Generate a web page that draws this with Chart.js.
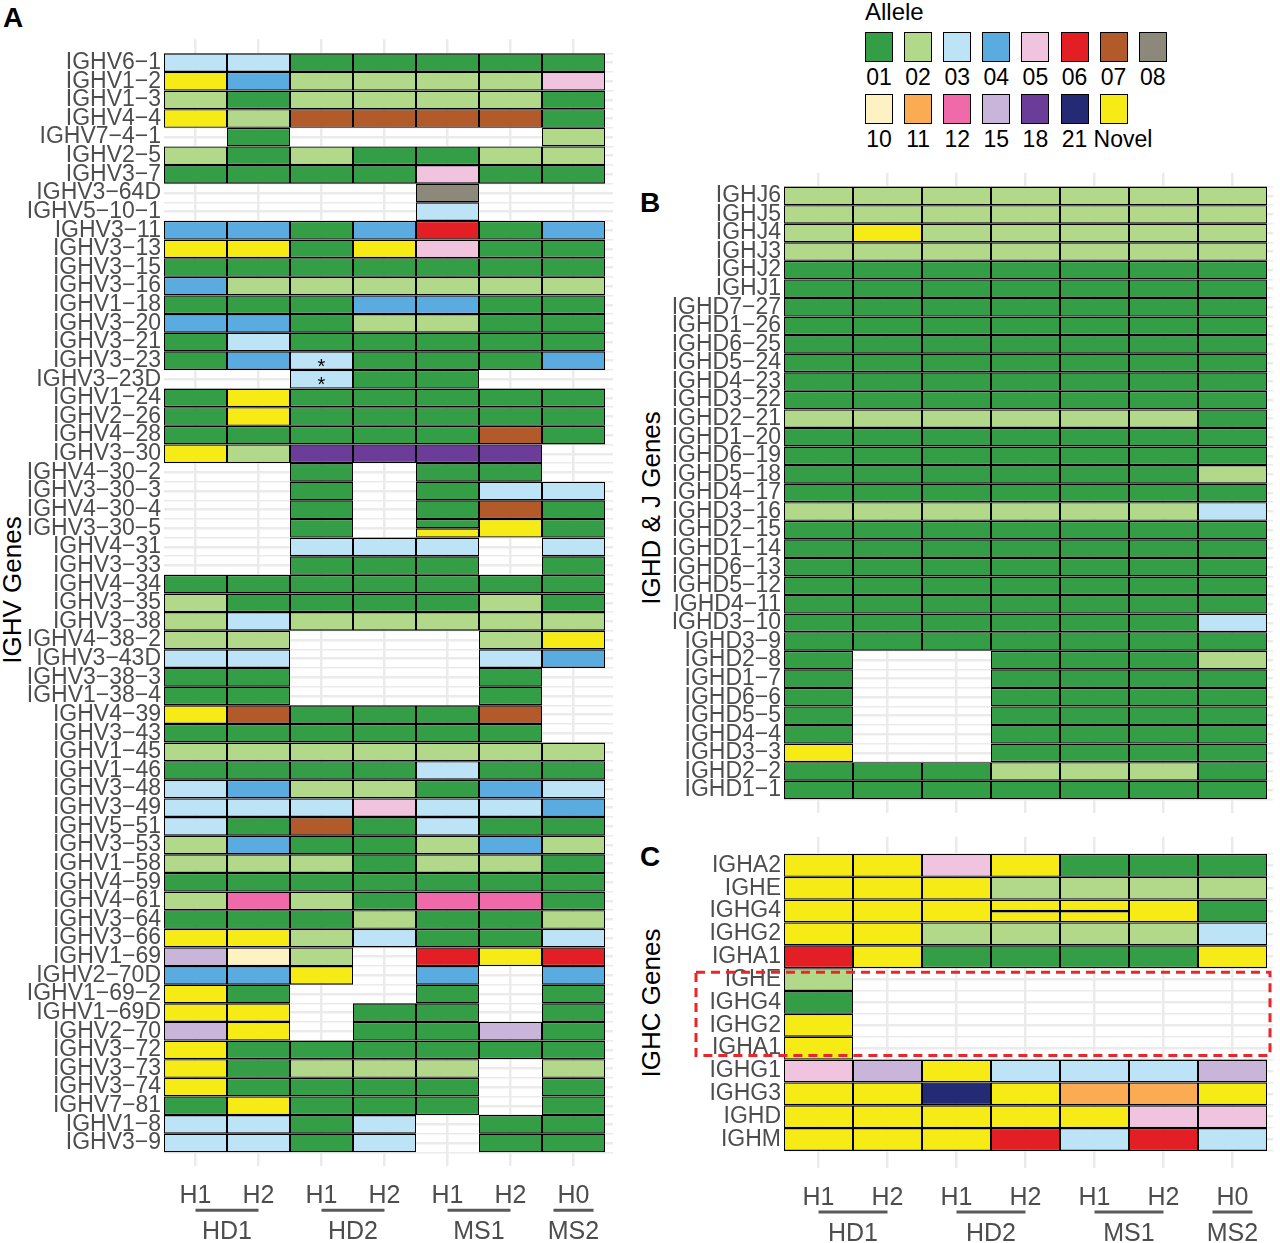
<!DOCTYPE html>
<html>
<head>
<meta charset="utf-8">
<script src="https://cdn.jsdelivr.net/npm/chart.js@4"></script>
<style>
  body { margin: 0; background: #fff; font-family: "Liberation Sans", Arial, sans-serif; }
  #page { position: relative; width: 1280px; height: 1243px; overflow: hidden; background: #fff; }
  .panel { position: absolute; }
  .letter { position: absolute; font-weight: bold; font-size: 28px; line-height: 28px; color: #000; }
  .ytitle { position: absolute; font-size: 26px; line-height: 26px; white-space: nowrap; color: #000;
            transform: translate(-50%, -50%) rotate(-90deg); }
  .lbox { position: absolute; width: 28px; height: 30px; box-sizing: border-box; border: 1px solid #000; }
  .llab { position: absolute; width: 40px; text-align: center; font-size: 23px; line-height: 23px; color: #000; white-space: nowrap; }
</style>
</head>
<body>
<div id="page">
  <div class="letter" style="left:3px; top:4px;">A</div>
  <div class="letter" style="left:640px; top:189px;">B</div>
  <div class="letter" style="left:640px; top:843px;">C</div>

  <div class="ytitle" style="left:12px; top:590px;">IGHV Genes</div>
  <div class="ytitle" style="left:651px; top:508px;">IGHD &amp; J Genes</div>
  <div class="ytitle" style="left:651px; top:1003px;">IGHC Genes</div>

  <div id="legend" class="panel" style="left:0; top:0; width:1280px; height:160px;">
    <div style="position:absolute; left:865px; top:0px; font-size:24px; line-height:24px;">Allele</div>
  </div>

  <div class="panel" style="left:0; top:0;"><canvas id="chartA" width="625" height="1243"></canvas></div>
  <div class="panel" style="left:630px; top:150px;"><canvas id="chartB" width="650" height="680"></canvas></div>
  <div class="panel" style="left:630px; top:820px;"><canvas id="chartC" width="650" height="423"></canvas></div>
</div>

<script>
// allele palette
const alleleCodes  = ['01', '02', '03', '04', '05', '06', '07', '08', '10', '11', '12', '15', '18', '21', 'N'];
const alleleNames  = ['01', '02', '03', '04', '05', '06', '07', '08', '10', '11', '12', '15', '18', '21', 'Novel'];
const alleleColors = ['#339e45', '#b2d88a', '#bde3f6', '#5aace0', '#f0c4df', '#e31e25', '#b35a2a', '#8c887a',
                      '#fff2c2', '#fbab51', '#f06aa9', '#c9b5d9', '#6b3d99', '#252a74', '#f6eb14'];

// columns (haplotypes) and their subjects
const haplotypes = ['H1', 'H2', 'H1', 'H2', 'H1', 'H2', 'H0'];
const subjects   = ['HD1', 'HD1', 'HD2', 'HD2', 'MS1', 'MS1', 'MS2'];

// ---- panel A : IGHV ----
const ighvGenes = ['IGHV6-1','IGHV1-2','IGHV1-3','IGHV4-4','IGHV7-4-1','IGHV2-5','IGHV3-7','IGHV3-64D','IGHV5-10-1','IGHV3-11',
  'IGHV3-13','IGHV3-15','IGHV3-16','IGHV1-18','IGHV3-20','IGHV3-21','IGHV3-23','IGHV3-23D','IGHV1-24','IGHV2-26',
  'IGHV4-28','IGHV3-30','IGHV4-30-2','IGHV3-30-3','IGHV4-30-4','IGHV3-30-5','IGHV4-31','IGHV3-33','IGHV4-34','IGHV3-35',
  'IGHV3-38','IGHV4-38-2','IGHV3-43D','IGHV3-38-3','IGHV1-38-4','IGHV4-39','IGHV3-43','IGHV1-45','IGHV1-46','IGHV3-48',
  'IGHV3-49','IGHV5-51','IGHV3-53','IGHV1-58','IGHV4-59','IGHV4-61','IGHV3-64','IGHV3-66','IGHV1-69','IGHV2-70D',
  'IGHV1-69-2','IGHV1-69D','IGHV2-70','IGHV3-72','IGHV3-73','IGHV3-74','IGHV7-81','IGHV1-8','IGHV3-9'];

// '' = not present, 'N' = novel, 'a|b' = two alleles in one haplotype
const ighvHD1H1 = ['03','N','02','N','','02','01','','','04',
  'N','01','04','01','04','01','01','','01','01',
  '01','N','','','','','','','01','02',
  '02','02','03','01','01','N','01','02','01','03',
  '03','03','02','02','01','02','01','N','15','04',
  'N','N','15','N','N','N','01','03','03'];
const ighvHD1H2 = ['03','04','01','02','01','01','01','','','04',
  'N','01','02','01','04','03','04','','N','N',
  '01','02','','','','','','','01','01',
  '03','02','03','01','01','07','01','02','01','04',
  '03','01','04','02','01','12','01','N','10','04',
  '01','N','N','01','01','01','N','03','03'];
const ighvHD2H1 = ['01','02','02','07','','02','01','','','01',
  '01','01','02','01','01','01','03','03','01','01',
  '01','18','01','01','01','01','03','01','01','01',
  '02','','','','','01','01','02','01','02',
  '03','07','01','02','01','02','01','02','02','N',
  '','','','01','02','01','01','01','01'];
const ighvHD2H2 = ['01','02','02','07','','01','01','','','04',
  'N','01','02','04','02','01','01','01','01','01',
  '01','18','','','','','03','01','01','01',
  '02','','','','','01','01','02','01','02',
  '05','01','01','01','01','01','02','03','','',
  '','01','01','01','02','01','01','03','03'];
const ighvMS1H1 = ['01','02','02','07','','01','05','08','03','06',
  '05','01','02','04','02','01','01','01','01','01',
  '01','18','01','01','01','01|N','03','01','01','01',
  '02','','','','','01','01','02','03','01',
  '03','03','02','02','01','12','01','01','06','04',
  '01','01','01','01','02','01','01','',''];
const ighvMS1H2 = ['01','02','02','07','','02','01','','','01',
  '01','01','02','01','01','01','01','','01','01',
  '07','18','01','03','07','N','','','01','02',
  '02','02','03','01','01','07','01','02','01','04',
  '03','01','04','02','01','12','01','01','N','',
  '','','15','01','','','','01','01'];
const ighvMS2H0 = ['01','05','01','01','02','02','01','','','04',
  '01','01','02','01','01','01','04','','01','01',
  '01','','','03','01','01','03','01','01','01',
  '02','N','04','','','','','02','01','03',
  '04','01','02','01','01','01','02','03','06','04',
  '01','01','01','01','02','01','01','01','01'];
const ighvStarred = ['IGHV3-23', 'IGHV3-23D'];   // marked with * in HD2 H1

// ---- panel B : IGHD & IGHJ ----
const ighdjGenes = ['IGHJ6','IGHJ5','IGHJ4','IGHJ3','IGHJ2','IGHJ1','IGHD7-27','IGHD1-26','IGHD6-25','IGHD5-24',
  'IGHD4-23','IGHD3-22','IGHD2-21','IGHD1-20','IGHD6-19','IGHD5-18','IGHD4-17','IGHD3-16','IGHD2-15','IGHD1-14',
  'IGHD6-13','IGHD5-12','IGHD4-11','IGHD3-10','IGHD3-9','IGHD2-8','IGHD1-7','IGHD6-6','IGHD5-5','IGHD4-4',
  'IGHD3-3','IGHD2-2','IGHD1-1'];
const djHD1H1 = ['02','02','02','02','01','01','01','01','01','01',
  '01','01','02','01','01','01','01','02','01','01',
  '01','01','01','01','01','01','01','01','01','01',
  'N','01','01'];
const djHD1H2 = ['02','02','N','02','01','01','01','01','01','01',
  '01','01','02','01','01','01','01','02','01','01',
  '01','01','01','01','01','','','','','',
  '','01','01'];
const djHD2H1 = ['02','02','02','02','01','01','01','01','01','01',
  '01','01','02','01','01','01','01','02','01','01',
  '01','01','01','01','01','','','','','',
  '','01','01'];
const djHD2H2 = ['02','02','02','02','01','01','01','01','01','01',
  '01','01','02','01','01','01','01','02','01','01',
  '01','01','01','01','01','01','01','01','01','01',
  '01','02','01'];
const djMS1H1 = ['02','02','02','02','01','01','01','01','01','01',
  '01','01','02','01','01','01','01','02','01','01',
  '01','01','01','01','01','01','01','01','01','01',
  '01','02','01'];
const djMS1H2 = ['02','02','02','02','01','01','01','01','01','01',
  '01','01','02','01','01','01','01','02','01','01',
  '01','01','01','01','01','01','01','01','01','01',
  '01','02','01'];
const djMS2H0 = ['02','02','02','02','01','01','01','01','01','01',
  '01','01','01','01','01','02','01','03','01','01',
  '01','01','01','03','01','02','01','01','01','01',
  '01','01','01'];

// ---- panel C : IGHC ----
const ighcGenes = ['IGHA2','IGHE','IGHG4','IGHG2','IGHA1','IGHE','IGHG4','IGHG2','IGHA1','IGHG1','IGHG3','IGHD','IGHM'];
const cHD1H1 = ['N','N','N','N','06','02','01','N','N','05','N','N','N'];
const cHD1H2 = ['N','N','N','N','N','','','','','15','N','N','N'];
const cHD2H1 = ['05','N','N','02','01','','','','','N','21','N','N'];
const cHD2H2 = ['N','02','N|N','02','01','','','','','03','N','N','06'];
const cMS1H1 = ['01','02','N|N','02','01','','','','','03','11','N','03'];
const cMS1H2 = ['01','02','N','02','01','','','','','03','11','05','06'];
const cMS2H0 = ['01','02','01','03','N','','','','','15','N','05','03'];
const ighcBoxed = ['IGHE', 'IGHA1'];  // second copies of these rows bound the dashed box

const FONT = '"Liberation Sans", Arial, sans-serif';
const GRID = '#ebebeb';
const TXT = '#4d4d4d';

function colorOf(code) {
  const i = alleleCodes.indexOf(code);
  return i >= 0 ? alleleColors[i] : 'rgba(0,0,0,0)';
}

// build floating bars: one per allele, split cells share the row height
function buildCells(columns) {
  const cells = [];
  columns.forEach((col, c) => {
    col.forEach((code, r) => {
      if (!code) return;
      const parts = code.split('|');
      const h = 1 / parts.length;
      parts.forEach((p, k) => {
        cells.push({ x: c, y: [r - 0.5 + k * h, r - 0.5 + (k + 1) * h], allele: p });
      });
    });
  });
  return cells;
}

// asterisks on some cells
const starPlugin = {
  id: 'stars',
  afterDatasetsDraw(chart, args, opts) {
    if (!opts.rows) return;
    const { ctx, scales: { x, y } } = chart;
    ctx.save();
    ctx.font = '20px ' + FONT;
    ctx.fillStyle = '#000';
    ctx.textAlign = 'center';
    ctx.textBaseline = 'alphabetic';
    opts.rows.forEach(g => {
      const r = opts.genes.indexOf(g);
      ctx.fillText('*', x.getPixelForValue(opts.col), y.getPixelForValue(r) + 12);
    });
    ctx.restore();
  }
};

// second level x labels (subject) with an underline
const groupPlugin = {
  id: 'groups',
  afterDraw(chart, args, opts) {
    if (!opts.show) return;
    const { ctx, chartArea, scales: { x } } = chart;
    const lineY = chartArea.bottom + 44;
    const textY = chartArea.bottom + 73;
    const names = [...new Set(subjects)];
    ctx.save();
    ctx.font = '25px ' + FONT;
    ctx.fillStyle = TXT;
    ctx.strokeStyle = '#5a5a5a';
    ctx.lineWidth = 3;
    ctx.textAlign = 'center';
    ctx.textBaseline = 'alphabetic';
    names.forEach(name => {
      const cols = subjects.map((s, i) => s === name ? i : -1).filter(i => i >= 0);
      let a = x.getPixelForValue(cols[0]);
      let b = x.getPixelForValue(cols[cols.length - 1]);
      const mid = (a + b) / 2;
      if (cols.length === 1) { a = mid - 20; b = mid + 20; }
      ctx.beginPath();
      ctx.moveTo(a, lineY);
      ctx.lineTo(b, lineY);
      ctx.stroke();
      ctx.fillText(name, mid, textY);
    });
    ctx.restore();
  }
};

// red dashed box around a block of rows
const boxPlugin = {
  id: 'dashBox',
  afterDatasetsDraw(chart, args, opts) {
    if (!opts.from) return;
    const { ctx, chartArea, scales: { y } } = chart;
    const r0 = opts.genes.lastIndexOf(opts.from);
    const r1 = opts.genes.lastIndexOf(opts.to);
    const top = y.getPixelForValue(r0 - 0.5) + 4;
    const bottom = y.getPixelForValue(r1 + 0.5) - 4;
    const left = chartArea.left - 88;
    ctx.save();
    ctx.strokeStyle = '#e8262b';
    ctx.lineWidth = 3;
    ctx.setLineDash([9, 6]);
    ctx.strokeRect(left, top, chartArea.right - 3 - left, bottom - top);
    ctx.restore();
  }
};

// o.col = column width in px (whole pixels keep the cell borders crisp)
function makeHeatmap(id, genes, columns, o) {
  const ext = 0.75;
  const canvas = document.getElementById(id);
  const areaW = canvas.width - o.yWidth - o.padRight;
  const xMax = -0.5 + areaW / o.col;
  return new Chart(canvas, {
    type: 'bar',
    data: {
      datasets: [{
        data: buildCells(columns),
        backgroundColor: c => colorOf(c.raw && c.raw.allele),
        borderColor: '#000',
        // row edges fall between pixels, so they get a little more width
        borderWidth: { top: 1.4, bottom: 1.4, left: 1, right: 1 },
        borderSkipped: false,
        inflateAmount: 0,
        barPercentage: 1,
        categoryPercentage: 1
      }]
    },
    options: {
      responsive: false,
      animation: false,
      devicePixelRatio: 1,
      layout: { padding: { top: o.padTop, right: o.padRight, left: 0, bottom: 0 } },
      plugins: {
        legend: { display: false },
        tooltip: { enabled: false },
        stars: o.stars || {},
        groups: { show: o.showX },
        dashBox: o.box || {}
      },
      scales: {
        x: {
          type: 'linear', min: -0.5, max: xMax, offset: false, bounds: 'data',
          grid: { color: GRID, lineWidth: 2.5, drawTicks: false, offset: false },
          border: { display: false },
          afterBuildTicks: s => { s.ticks = haplotypes.map((h, i) => ({ value: i })); },
          afterFit: s => { s.height = o.xHeight; },
          ticks: {
            display: o.showX, autoSkip: false, maxRotation: 0, minRotation: 0, padding: 15,
            color: TXT, font: { family: FONT, size: 25 },
            callback: v => haplotypes[v]
          }
        },
        y: {
          type: 'linear', reverse: true, min: -0.5 - ext, max: genes.length - 0.5 + ext,
          offset: false, bounds: 'data',
          // major lines on rows, minor lines on row edges
          grid: { color: GRID, lineWidth: c => Number.isInteger(c.tick.value) ? 2.5 : 1.5,
                  drawTicks: false, offset: false },
          border: { display: false },
          afterBuildTicks: s => {
            const t = [];
            for (let v = -0.5; v <= genes.length - 0.5; v += 0.5) t.push({ value: v });
            s.ticks = t;
          },
          afterFit: s => { s.width = o.yWidth; },
          ticks: {
            autoSkip: false, padding: 3, color: TXT, font: { family: FONT, size: 23 },
            callback: v => Number.isInteger(v) ? (genes[v] || '').replace(/-/g, '\u2212') : ''
          }
        }
      }
    },
    plugins: [starPlugin, groupPlugin, boxPlugin]
  });
}

makeHeatmap('chartA', ighvGenes,
  [ighvHD1H1, ighvHD1H2, ighvHD2H1, ighvHD2H2, ighvMS1H1, ighvMS1H2, ighvMS2H0],
  { padTop: 39.3, padRight: 12, yWidth: 164, xHeight: 76.7, col: 63, showX: true,
    stars: { genes: ighvGenes, rows: ighvStarred, col: 2 } });

makeHeatmap('chartB', ighdjGenes,
  [djHD1H1, djHD1H2, djHD2H1, djHD2H2, djMS1H1, djMS1H2, djMS2H0],
  { padTop: 22.65, padRight: 7, yWidth: 154, xHeight: 10.95, col: 69, showX: false });

makeHeatmap('chartC', ighcGenes,
  [cHD1H1, cHD1H2, cHD2H1, cHD2H2, cMS1H1, cMS1H2, cMS2H0],
  { padTop: 12.65, padRight: 7, yWidth: 154, xHeight: 74.95, col: 69, showX: true,
    box: { genes: ighcGenes, from: ighcBoxed[0], to: ighcBoxed[1] } });

// legend
const legend = document.getElementById('legend');
alleleCodes.forEach((code, i) => {
  const row = Math.floor(i / 8), col = i % 8;
  const left = 865 + col * 39.1;
  const box = document.createElement('div');
  box.className = 'lbox';
  box.style.left = left + 'px';
  box.style.top = (32 + row * 62.3) + 'px';
  box.style.background = alleleColors[i];
  legend.appendChild(box);
  const lab = document.createElement('div');
  lab.className = 'llab';
  lab.style.left = (left - 6) + 'px';
  lab.style.top = (65.5 + row * 62.3) + 'px';
  lab.textContent = alleleNames[i];
  legend.appendChild(lab);
});
</script>
</body>
</html>
